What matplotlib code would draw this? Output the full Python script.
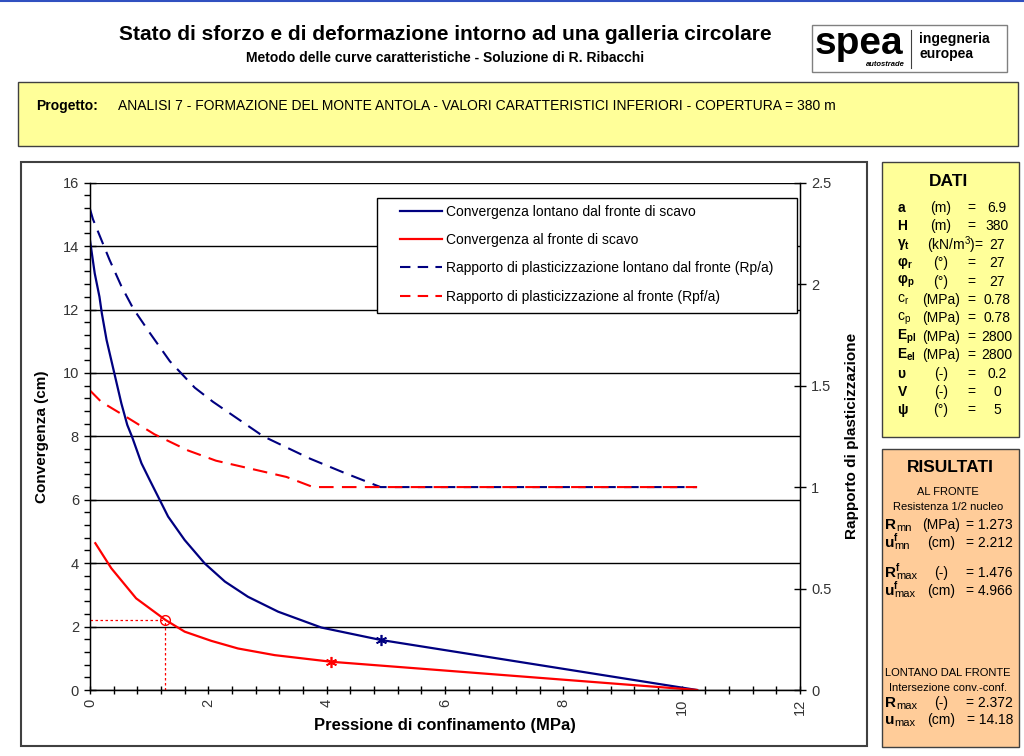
import numpy as np
import matplotlib
matplotlib.use("Agg")
import matplotlib.pyplot as plt
from matplotlib.patches import Rectangle
from matplotlib.lines import Line2D

plt.rcParams['font.family'] = ['Liberation Sans', 'DejaVu Sans']
plt.rcParams['mathtext.fontset'] = 'custom'
plt.rcParams['mathtext.rm'] = 'Liberation Sans'
plt.rcParams['mathtext.it'] = 'Liberation Sans:italic'
plt.rcParams['mathtext.bf'] = 'Liberation Sans:bold'

# --- data ---
# convergence far from face (cm) vs confinement pressure (MPa)
p_far = [0.0, 0.08, 0.16, 0.2, 0.28, 0.41, 0.53, 0.63, 0.71, 0.87, 1.01, 1.18, 1.32, 1.6,
         1.94, 2.28, 2.67, 3.18, 3.91, 4.91, 10.26]
u_far = [14.18, 13.14, 12.4, 11.88, 11.04, 10.0, 9.04, 8.36, 7.99, 7.15, 6.62, 5.99, 5.47, 4.73,
         3.99, 3.42, 2.94, 2.47, 1.97, 1.58, 0.0]
# convergence at face
p_face = [0.09, 0.36, 0.78, 1.273, 1.6, 2.05, 2.5, 3.12, 4.08, 10.26]
u_face = [4.63, 3.84, 2.89, 2.212, 1.84, 1.55, 1.31, 1.1, 0.89, 0.0]
# plastic radius ratio far from face (Rp/a)
p_rp = [0.0, 0.05, 0.19, 0.33, 0.53, 0.73, 1.01, 1.35, 1.77, 2.08, 2.93, 3.72, 4.3, 4.91, 10.26]
rp = [2.37, 2.32, 2.22, 2.12, 1.99, 1.88, 1.76, 1.62, 1.49, 1.42, 1.25, 1.14, 1.07, 1.0, 1.0]
# plastic radius ratio at face (Rpf/a)
p_rpf = [0.0, 0.19, 0.59, 1.09, 1.66, 2.13, 3.32, 3.77, 10.26]
rpf = [1.476, 1.42, 1.35, 1.26, 1.18, 1.13, 1.05, 1.0, 1.0]

star_far = (4.91, 1.58)
star_face = (4.08, 0.89)
core = (1.273, 2.212)

legend_labels = ["Convergenza lontano dal fronte di scavo",
                 "Convergenza al fronte di scavo",
                 "Rapporto di plasticizzazione lontano dal fronte (Rp/a)",
                 "Rapporto di plasticizzazione al fronte (Rpf/a)"]

dati_sym = [r'$\mathbf{a}$', r'$\mathbf{H}$', r'$\mathbf{\gamma_t}$', r'$\mathbf{\varphi_r}$',
            r'$\mathbf{\varphi_p}$', r'$\mathrm{c_r}$', r'$\mathrm{c_p}$', r'$\mathbf{E_{pl}}$',
            r'$\mathbf{E_{el}}$', r'$\mathbf{\upsilon}$', r'$\mathbf{V}$', r'$\mathbf{\psi}$']
dati_unit = ['(m)', '(m)', r'(kN/m$^3$)=', '(°)', '(°)', '(MPa)', '(MPa)', '(MPa)',
             '(MPa)', '(-)', '(-)', '(°)']
dati_val = ['6.9', '380', '27', '27', '27', '0.78', '0.78', '2800', '2800', '0.2', '0', '5']

# result symbols: base letter, superscript, subscript
ris_base = ['R', 'u', 'R', 'u', 'R', 'u']
ris_sup = ['', 'f', 'f', 'f', '', '']
ris_sub = ['mn', 'mn', 'max', 'max', 'max', 'max']
ris_unit = ['(MPa)', '(cm)', '(-)', '(cm)', '(-)', '(cm)']
ris_val = ['= 1.273', '= 2.212', '= 1.476', '= 4.966', '= 2.372', '= 14.18']

W, H = 1024, 756
BLUE = '#000080'
RED = '#FF0000'


def fx(x):
    return x / W


def fy(y):
    return 1 - y / H


def box(fig, x0, y0, x1, y1, fc, ec='#404040', lw=1.0):
    fig.add_artist(Rectangle((fx(x0), fy(y1)), fx(x1) - fx(x0), fy(y0) - fy(y1),
                             transform=fig.transFigure, fc=fc, ec=ec, lw=lw, zorder=0))


def ftext(fig, x, y, s, **kw):
    kw.setdefault('va', 'center')
    fig.text(fx(x), fy(y), s, **kw)


fig = plt.figure(figsize=(W / 100, H / 100), dpi=100)

# page decoration
fig.add_artist(Line2D([0, 1], [fy(1), fy(1)], color='#3050C0', lw=1.5, transform=fig.transFigure))
box(fig, 18, 82, 1018, 146, '#FFFF99')
box(fig, 21, 162, 867, 746, 'white', lw=1.5)
box(fig, 882, 162, 1019, 437, '#FFFF99')
box(fig, 882, 449, 1019, 747, '#FFCC99')
box(fig, 812, 25, 1007, 72, 'white', ec='#808080')

ftext(fig, 445, 35, "Stato di sforzo e di deformazione intorno ad una galleria circolare",
      ha='center', fontsize=15, fontweight='bold')
ftext(fig, 445, 58, "Metodo delle curve caratteristiche - Soluzione di R. Ribacchi",
      ha='center', fontsize=10, fontweight='bold')

# logo
ftext(fig, 815, 44, "spea", ha='left', fontsize=28, fontweight='bold')
ftext(fig, 905, 64, "autostrade", ha='right', fontsize=5.5, fontweight='bold', style='italic')
fig.add_artist(Line2D([fx(911), fx(911)], [fy(30), fy(68)], color='#404040', lw=0.8,
                      transform=fig.transFigure))
ftext(fig, 919, 39, "ingegneria", ha='left', fontsize=10, fontweight='bold')
ftext(fig, 919, 54, "europea", ha='left', fontsize=10, fontweight='bold')

ftext(fig, 36, 106, "Progetto:", ha='left', fontsize=10, fontweight='bold')
ftext(fig, 118, 106, "ANALISI 7 - FORMAZIONE DEL MONTE ANTOLA - VALORI CARATTERISTICI INFERIORI"
      " - COPERTURA = 380 m", ha='left', fontsize=10)

# DATI panel
ftext(fig, 949, 181, "DATI", ha='center', fontsize=12.5, fontweight='bold')
for i in range(len(dati_sym)):
    y = 208 + i * 18.4
    ftext(fig, 897, y, dati_sym[i], ha='left', fontsize=10)
    if dati_unit[i].endswith('='):
        ftext(fig, 955, y, dati_unit[i], ha='center', fontsize=10)
    else:
        ftext(fig, 941, y, dati_unit[i], ha='center', fontsize=10)
        ftext(fig, 971, y, "=", ha='center', fontsize=10)
    ftext(fig, 997, y, dati_val[i], ha='center', fontsize=10)

# RISULTATI panel
ftext(fig, 950, 468, "RISULTATI", ha='center', fontsize=12.5, fontweight='bold')
ftext(fig, 948, 492, "AL FRONTE", ha='center', fontsize=8)
ftext(fig, 948, 507, "Resistenza 1/2 nucleo", ha='center', fontsize=8)
ftext(fig, 948, 673, "LONTANO DAL FRONTE", ha='center', fontsize=8)
ftext(fig, 948, 688, "Intersezione conv.-conf.", ha='center', fontsize=8)
ris_y = [525, 543, 573, 591, 703, 720]
for i in range(len(ris_base)):
    y = ris_y[i]
    ftext(fig, 885, y, ris_base[i], ha='left', fontsize=11, fontweight='bold')
    xs = 885 + (11 if ris_base[i] == 'R' else 9)
    if ris_sup[i]:
        ftext(fig, xs, y - 5, ris_sup[i], ha='left', fontsize=7, fontweight='bold')
    ftext(fig, xs, y + 3, ris_sub[i], ha='left', fontsize=8)
    ftext(fig, 941, y, ris_unit[i], ha='center', fontsize=10)
    ftext(fig, 1013, y, ris_val[i], ha='right', fontsize=10)

# main chart
ax = fig.add_axes([fx(90), fy(690), fx(800) - fx(90), fy(182.7) - fy(690)])
ax.set_facecolor('white')
ax.set_xlim(0, 12)
ax.set_ylim(0, 16)
ax.set_yticks(np.arange(0, 17, 2))
ax.set_yticks(np.arange(0, 16.01, 0.4), minor=True)
ax.set_xticks(np.arange(0, 13, 2))
ax.set_xticks(np.arange(0, 12.01, 0.4), minor=True)
ax.grid(axis='y', which='major', color='black', lw=1)
ax.set_axisbelow(True)
ax.tick_params(axis='y', which='major', direction='inout', length=9, labelsize=10.5,
               labelcolor='#333333', width=1)
ax.tick_params(axis='y', which='minor', direction='out', length=4, width=1)
ax.tick_params(axis='x', which='both', direction='inout', length=6, width=1, labelsize=10.5,
               labelcolor='#333333', labelrotation=90)
for s in ['left', 'bottom', 'right', 'top']:
    ax.spines[s].set_linewidth(1)
ax.spines['top'].set_visible(False)

ax.plot(p_far, u_far, color=BLUE, lw=1.6)
ax.plot(p_face, u_face, color=RED, lw=1.6)
ax.plot([0, core[0]], [core[1], core[1]], color=RED, lw=0.9, ls=(0, (2, 2)))
ax.plot([core[0], core[0]], [0, core[1]], color=RED, lw=0.9, ls=(0, (2, 2)))
ax.plot([core[0]], [core[1]], marker='o', mfc='none', mec=RED, ms=7, mew=1)
ax.plot([star_far[0]], [star_far[1]], marker=(6, 2, 0), color=BLUE, ms=8, mew=1.2)
ax.plot([star_face[0]], [star_face[1]], marker=(6, 2, 0), color=RED, ms=8, mew=1.2)

ax.set_xlabel("Pressione di confinamento (MPa)", fontsize=12, fontweight='bold', labelpad=2)
ax.set_ylabel("Convergenza (cm)", fontsize=11, fontweight='bold', labelpad=10)

ax2 = ax.twinx()
ax2.set_ylim(0, 2.5)
ax2.set_yticks(np.arange(0, 2.51, 0.5))
ax2.set_yticklabels(['0', '0.5', '1', '1.5', '2', '2.5'])
ax2.tick_params(axis='y', direction='inout', length=9, width=1, labelsize=10.5,
                labelcolor='#333333')
ax2.spines['top'].set_visible(False)
ax2.plot(p_rp, rp, color=BLUE, lw=1.5, dashes=(7, 4))
ax2.plot(p_rpf, rpf, color=RED, lw=1.5, dashes=(7, 4))
ax2.set_ylabel("Rapporto di plasticizzazione", fontsize=11, fontweight='bold', labelpad=10)

# legend frame drawn separately so the inner padding matches the original
ax_w, ax_h = 710.0, 507.3
ax2.add_patch(Rectangle(((377 - 90) / ax_w, (690 - 313) / ax_h), 420 / ax_w, 115 / ax_h,
                        transform=ax2.transAxes, fc='white', ec='black', lw=1, zorder=8))
handles = [Line2D([], [], color=BLUE, lw=1.6), Line2D([], [], color=RED, lw=1.6),
           Line2D([], [], color=BLUE, lw=1.5, dashes=(5, 3.5)),
           Line2D([], [], color=RED, lw=1.5, dashes=(5, 3.5))]
leg = ax2.legend(handles, legend_labels, loc='upper left',
                 bbox_to_anchor=((400 - 90) / ax_w, (690 - 205) / ax_h),
                 borderaxespad=0, borderpad=0, fontsize=10, handlelength=3.0,
                 handletextpad=0.3, labelspacing=1.02, frameon=False)
leg.set_zorder(10)

fig.savefig("out.png", dpi=100)
